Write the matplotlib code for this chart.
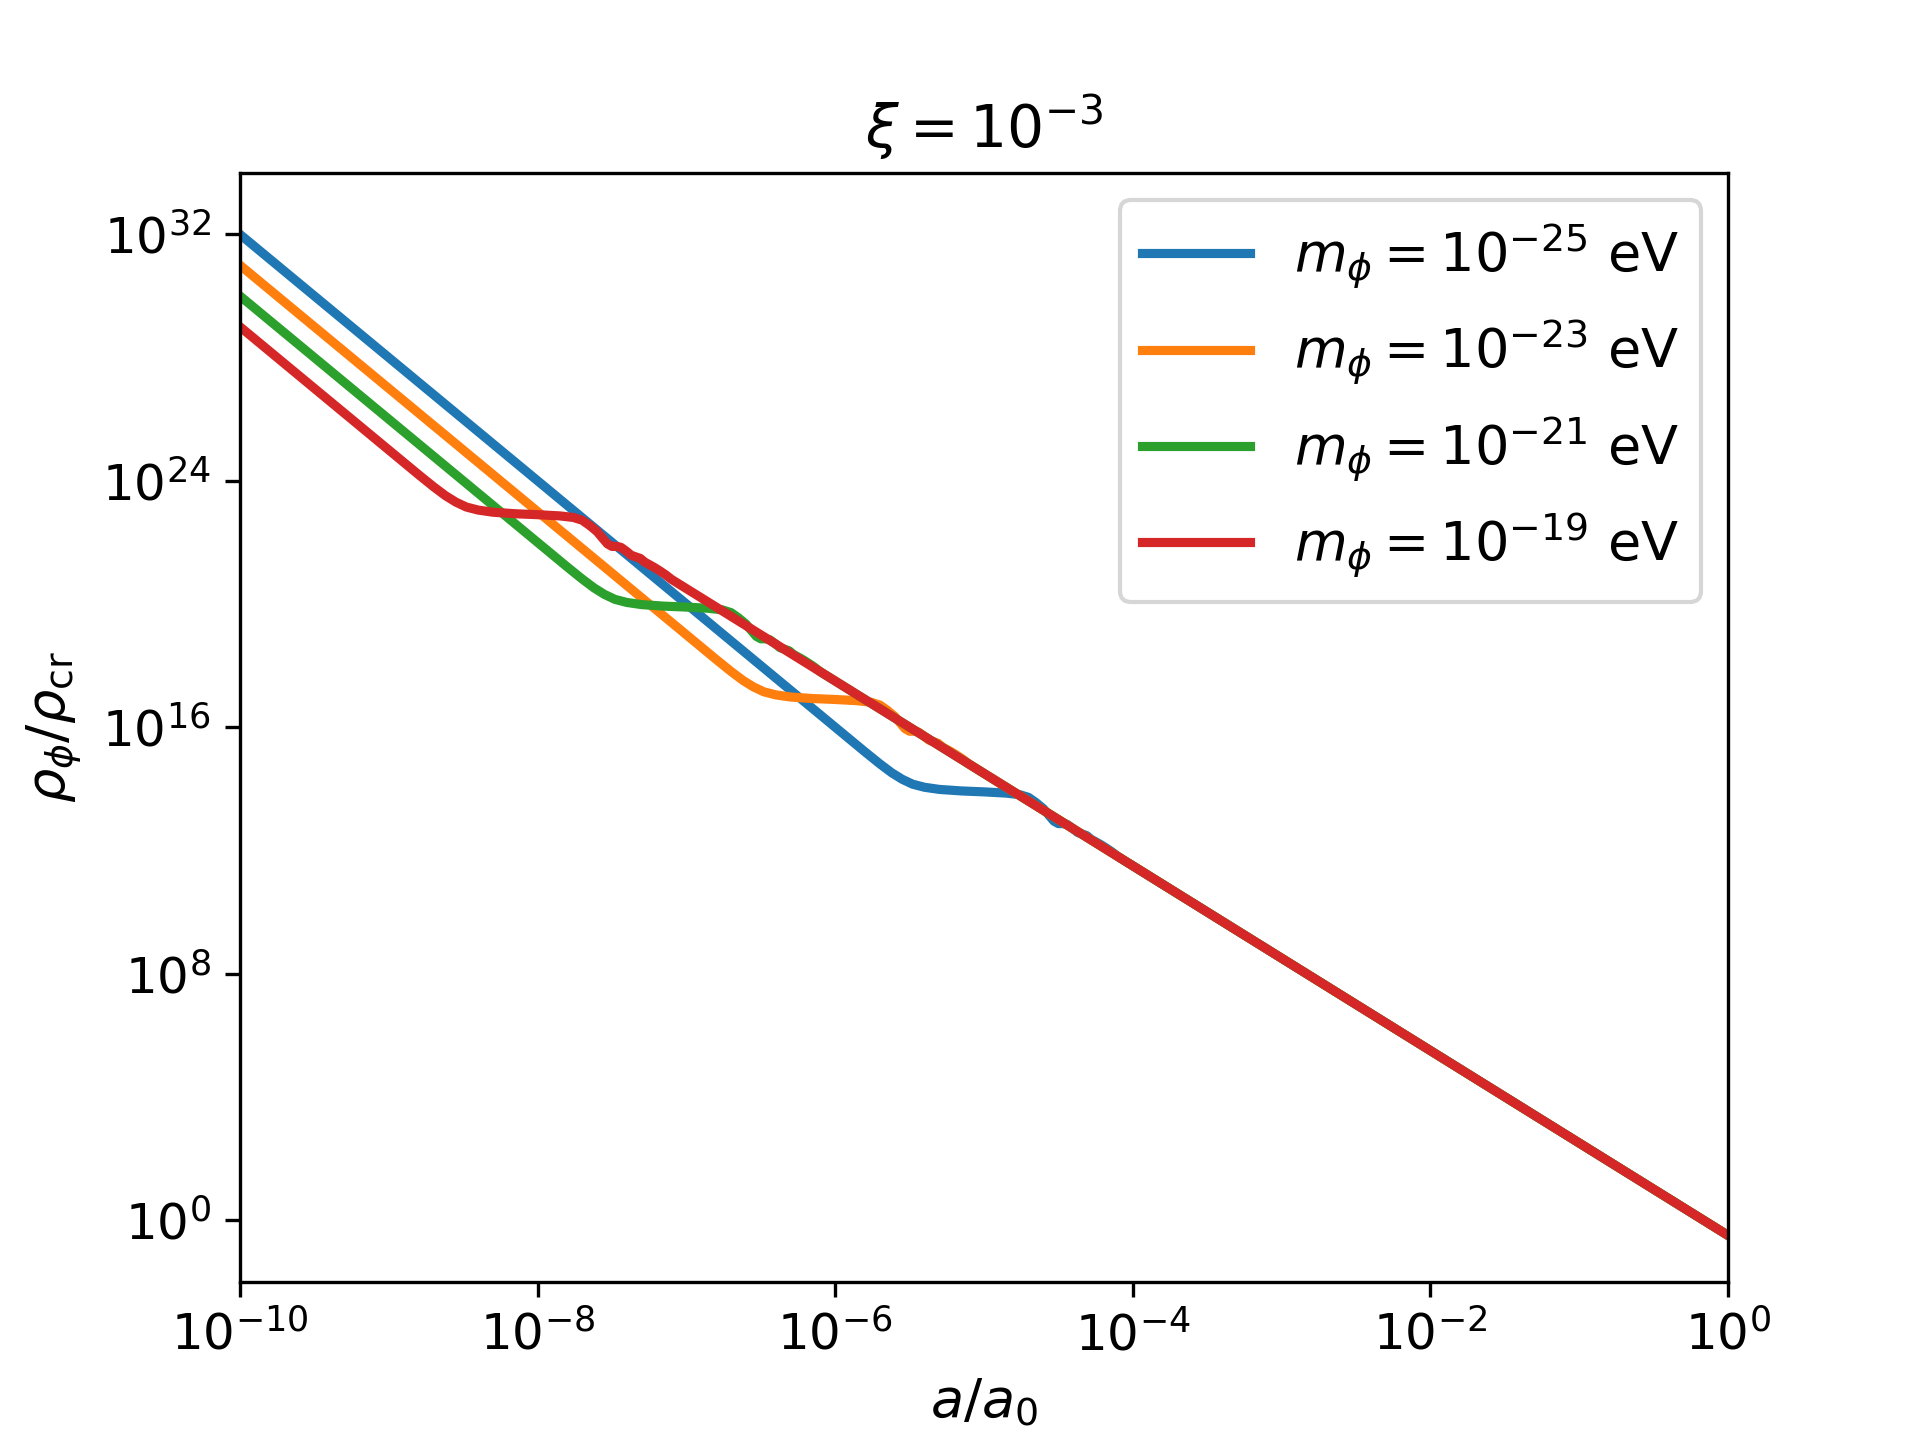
# energy density of the scalar field vs scale factor, xi = 1e-3
import numpy as np
import matplotlib
matplotlib.use("Agg")
import matplotlib.pyplot as plt

# values, as log10(a/a0) and log10(rho/rho_cr)
loga_25 = [-10, -5.80, -5.70, -5.62, -5.55, -5.48, -5.40, -5.30, -5.15, -5.00, -4.85, -4.76,
           -4.70, -4.65, -4.60, -4.56, -4.53, -4.50, -4.47, -4.44, -4.40, -4.37, -4.34,
           -4.31, -4.28, -4.25, -4.22, -4.18, -4.14, -4.10, -4.00, 0]
logr_25 = [32, 15.20, 14.81, 14.52, 14.31, 14.15, 14.05, 13.98, 13.93, 13.90, 13.86, 13.81,
           13.72, 13.55, 13.35, 13.12, 12.95, 12.87, 12.87, 12.84, 12.70, 12.58, 12.53,
           12.48, 12.36, 12.28, 12.20, 12.08, 11.95, 11.80, 11.50, -0.50]

loga_23 = [-10, -6.80, -6.70, -6.62, -6.55, -6.48, -6.40, -6.30, -6.15, -6.00, -5.85, -5.76,
           -5.70, -5.65, -5.60, -5.56, -5.53, -5.50, -5.47, -5.44, -5.40, -5.37, -5.34,
           -5.31, -5.28, -5.25, -5.22, -5.18, -5.14, -5.10, -5.00, 0]
logr_23 = [31, 18.20, 17.81, 17.52, 17.31, 17.15, 17.05, 16.98, 16.93, 16.90, 16.86, 16.81,
           16.72, 16.55, 16.35, 16.12, 15.95, 15.87, 15.87, 15.84, 15.70, 15.58, 15.53,
           15.48, 15.36, 15.28, 15.20, 15.08, 14.95, 14.80, 14.50, -0.50]

loga_21 = [-10, -7.80, -7.70, -7.62, -7.55, -7.48, -7.40, -7.30, -7.15, -7.00, -6.85, -6.76,
           -6.70, -6.65, -6.60, -6.56, -6.53, -6.50, -6.47, -6.44, -6.40, -6.37, -6.34,
           -6.31, -6.28, -6.25, -6.22, -6.18, -6.14, -6.10, -6.00, 0]
logr_21 = [30, 21.20, 20.81, 20.52, 20.31, 20.15, 20.05, 19.98, 19.93, 19.90, 19.86, 19.81,
           19.72, 19.55, 19.35, 19.12, 18.95, 18.87, 18.87, 18.84, 18.70, 18.58, 18.53,
           18.48, 18.36, 18.28, 18.20, 18.08, 17.95, 17.80, 17.50, -0.50]

loga_19 = [-10, -8.80, -8.70, -8.62, -8.55, -8.48, -8.40, -8.30, -8.15, -8.00, -7.85, -7.76,
           -7.70, -7.65, -7.60, -7.56, -7.53, -7.50, -7.47, -7.44, -7.40, -7.37, -7.34,
           -7.31, -7.28, -7.25, -7.22, -7.18, -7.14, -7.10, -7.00, 0]
logr_19 = [29, 24.20, 23.81, 23.52, 23.31, 23.15, 23.05, 22.98, 22.93, 22.90, 22.86, 22.81,
           22.72, 22.55, 22.35, 22.12, 21.95, 21.87, 21.87, 21.84, 21.70, 21.58, 21.53,
           21.48, 21.36, 21.28, 21.20, 21.08, 20.95, 20.80, 20.50, -0.50]

masses = ['-25', '-23', '-21', '-19']
curves = [(loga_25, logr_25), (loga_23, logr_23), (loga_21, logr_21), (loga_19, logr_19)]

plt.rcParams['font.size'] = 12

fig, ax = plt.subplots(figsize=(6.4, 4.8), dpi=300)
for m, (la, lr) in zip(masses, curves):
    ax.plot(10.0 ** np.array(la), 10.0 ** np.array(lr), lw=2.2,
            label=r'$m_\phi = 10^{' + m + r'}$ eV')

ax.set_xscale('log')
ax.set_yscale('log')
ax.set_xlim(1e-10, 1e0)
ax.set_ylim(1e-2, 1e34)
ax.set_yticks([1e0, 1e8, 1e16, 1e24, 1e32])
ax.tick_params(labelsize=12)
ax.set_xlabel(r'$a/a_0$', fontsize=13)
ax.set_ylabel(r'$\rho_\phi/\rho_{\mathrm{cr}}$', fontsize=13)
ax.set_title(r'$\xi = 10^{-3}$', fontsize=14)
ax.legend(loc='upper right', fontsize=13)

fig.savefig('out.png', dpi=300)
